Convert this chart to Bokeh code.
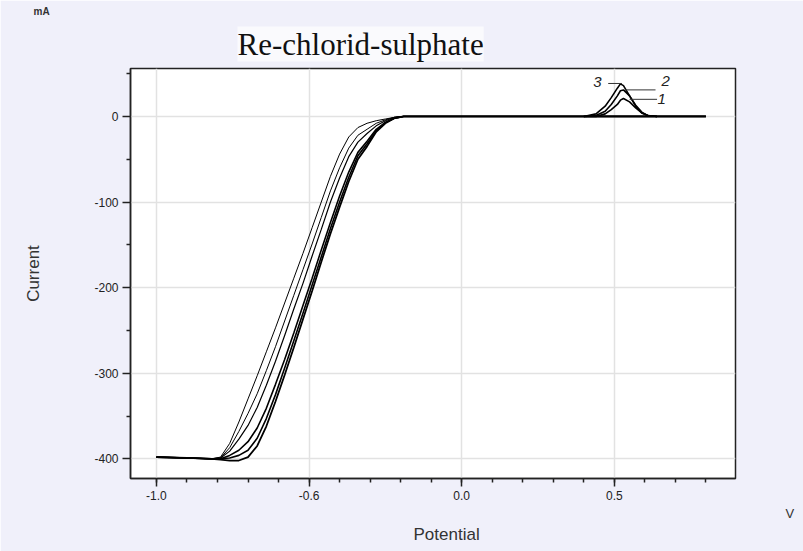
from bokeh.plotting import figure
from bokeh.models import Range1d, Label, FixedTicker, Title
from bokeh.embed import file_html
from bokeh.resources import INLINE

# ---------------- data ----------------
potential = [-1.00, -0.90, -0.82, -0.79, -0.76, -0.73, -0.70, -0.67, -0.64, -0.61,
             -0.58, -0.55, -0.52, -0.49, -0.46, -0.43, -0.40, -0.37, -0.34, -0.31,
             -0.28, -0.25, -0.22, -0.19, -0.10, 0.00, 0.20, 0.40, 0.80]

current_a = [-398, -399, -400, -398, -382, -357, -330, -303, -275, -247,
             -218, -189, -160, -130, -100, -70, -44, -24, -13, -8,
             -5, -3, -1, 0, 0, 0, 0, 0, 0]
current_b = [-398, -399, -400, -399, -387, -368, -347, -324, -297, -269,
             -239, -209, -179, -149, -118, -87, -60, -37, -22, -15,
             -8, -4, -1, 0, 0, 0, 0, 0, 0]
current_c = [-398, -399, -400, -399, -391, -377, -361, -340, -314, -286,
             -256, -225, -195, -163, -132, -100, -72, -47, -30, -20,
             -11, -5, -1, 0, 0, 0, 0, 0, 0]
current_d = [-398, -399, -400, -400, -396, -390, -380, -364, -341, -313,
             -284, -253, -221, -189, -156, -124, -93, -65, -42, -29,
             -15, -7, -2, 0, 0, 0, 0, 0, 0]
current_e = [-398, -399, -400, -400, -399, -396, -390, -376, -353, -325,
             -294, -262, -230, -197, -164, -131, -100, -71, -46, -32,
             -17, -7, -2, 0, 0, 0, 0, 0, 0]
current_f = [-398, -399, -400, -401, -402, -402, -398, -385, -362, -333,
             -302, -270, -237, -204, -170, -137, -106, -76, -50, -35,
             -18, -8, -2, 0, 0, 0, 0, 0, 0]

peak_potential = [0.40, 0.44, 0.47, 0.49, 0.51, 0.52, 0.53, 0.55, 0.57, 0.59, 0.61, 0.64]
peak_1 = [0, 0, 3, 8, 14, 19, 21, 17, 10, 4, 1, 0]
peak_2 = [0, 1, 6, 14, 24, 30, 31, 24, 13, 5, 1, 0]
peak_3 = [0, 3, 12, 22, 33, 38, 36, 24, 12, 4, 1, 0]
peak_labels = ["1", "2", "3"]

x_major = [-1.0, -0.5, 0.0, 0.5]
x_tick_labels = ["-1.0", "-0.6", "0.0", "0.5"]
x_minor = [-1.0, -0.9, -0.8, -0.7, -0.6, -0.5, -0.4, -0.3, -0.2, -0.1,
           0.0, 0.1, 0.2, 0.3, 0.4, 0.5, 0.6, 0.7, 0.8]
y_major = [-400, -300, -200, -100, 0]
y_tick_labels = ["-400", "-300", "-200", "-100", "0"]
y_minor = [-350, -250, -150, -50, 50]

title_text = "Re-chlorid-sulphate"
x_title = "Potential"
y_title = "Current"
x_unit = "V"
y_unit = "mA"

# ---------------- figure ----------------
BG = "#f0f0fa"
p = figure(width=803, height=551, output_backend="svg", toolbar_location=None,
           x_range=Range1d(-1.085, 0.897), y_range=Range1d(-423, 56),
           min_border_left=130, min_border_right=68, min_border_top=68,
           min_border_bottom=73)
p.title = None
p.background_fill_color = "white"
p.border_fill_color = BG
p.outline_line_color = "#222222"
p.outline_line_width = 1.5

# texts around the frame (stacked from the frame outward)
p.add_layout(Title(text=title_text, align="left", offset=107, standoff=14,
                   text_font="Liberation Serif", text_font_size="31px",
                   text_font_style="normal", text_color="#111111",
                   background_fill_color="#fafafd"), "above")
p.add_layout(Title(text=y_unit, align="left", offset=-97, standoff=2,
                   text_font="Liberation Sans", text_font_size="10px",
                   text_font_style="bold", text_color="#333333"), "above")
p.add_layout(Title(text=x_unit, align="left", offset=655, standoff=2,
                   text_font="Liberation Sans", text_font_size="13px",
                   text_font_style="normal", text_color="#333333"), "below")
p.add_layout(Title(text=x_title, align="left", offset=283, standoff=2,
                   text_font="Liberation Sans", text_font_size="17px",
                   text_font_style="normal", text_color="#333333"), "below")

for ax, ticks, minor, labels in ((p.xaxis[0], x_major, x_minor, x_tick_labels),
                                 (p.yaxis[0], y_major, y_minor, y_tick_labels)):
    ax.ticker = FixedTicker(ticks=ticks, minor_ticks=minor)
    ax.major_label_overrides = {t: l for t, l in zip(ticks, labels)}
    ax.axis_line_color = "#222222"
    ax.axis_line_width = 1.5
    ax.major_tick_line_color = "#222222"
    ax.major_tick_line_width = 1.5
    ax.minor_tick_line_color = "#222222"
    ax.minor_tick_line_width = 1.5
    ax.major_tick_out = 8
    ax.major_tick_in = 0
    ax.minor_tick_out = 4
    ax.minor_tick_in = 0
    ax.major_label_text_font = "Liberation Sans"
    ax.major_label_text_font_size = "12px"
    ax.major_label_text_color = "#222222"
    ax.major_label_standoff = 4
    ax.axis_label_text_font = "Liberation Sans"
    ax.axis_label_text_font_size = "17px"
    ax.axis_label_text_font_style = "normal"
    ax.axis_label_text_color = "#333333"

p.yaxis[0].axis_label = y_title
p.yaxis[0].axis_label_standoff = 48

p.xgrid.ticker = FixedTicker(ticks=x_major)
p.ygrid.ticker = FixedTicker(ticks=y_major)
for g in (p.xgrid[0], p.ygrid[0]):
    g.grid_line_color = "#e2e2e2"
    g.grid_line_width = 1.5

curves = [current_a, current_b, current_c, current_d, current_e, current_f]
widths = [1.0, 1.0, 1.2, 1.6, 1.6, 1.8]
for cur, w in zip(curves, widths):
    p.line(potential, cur, line_color="black", line_width=w)

for pk in (peak_1, peak_2, peak_3):
    p.line(peak_potential, pk, line_color="black", line_width=1.6)

# peak labels with leader lines
p.line([0.48, 0.525], [38.5, 38.5], line_color="#333333", line_width=1)
p.line([0.535, 0.635], [31, 31], line_color="#333333", line_width=1)
p.line([0.55, 0.64], [20, 20], line_color="#333333", line_width=1)
for txt, lx, ly in ((peak_labels[2], 0.445, 40), (peak_labels[1], 0.668, 41),
                    (peak_labels[0], 0.655, 20)):
    p.add_layout(Label(x=lx, y=ly, text=txt, text_font="Liberation Sans",
                       text_font_style="italic", text_font_size="15px",
                       text_color="#222222", text_align="center",
                       text_baseline="middle"))

open("out.html", "w").write(file_html(p, INLINE))
